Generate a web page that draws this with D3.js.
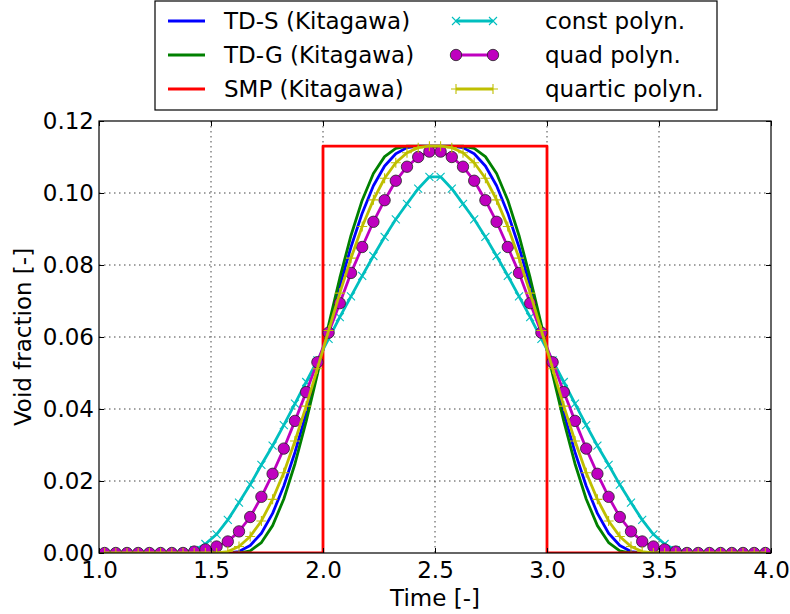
<!DOCTYPE html>
<html>
<head>
<meta charset="utf-8">
<script src="https://cdn.jsdelivr.net/npm/d3@7/dist/d3.min.js"></script>
<style>
  body { margin: 0; background: #fff; }
  svg text { font-family: "DejaVu Sans", sans-serif; fill: #000; }
</style>
</head>
<body>
<div id="chart"></div>
<script>
// sample times (cell centres)
const timeSteps = [1.025, 1.075, 1.125, 1.175, 1.225, 1.275, 1.325, 1.375, 1.425, 1.475,
    1.525, 1.575, 1.625, 1.675, 1.725, 1.775, 1.825, 1.875, 1.925, 1.975,
    2.025, 2.075, 2.125, 2.175, 2.225, 2.275, 2.325, 2.375, 2.425, 2.475,
    2.525, 2.575, 2.625, 2.675, 2.725, 2.775, 2.825, 2.875, 2.925, 2.975,
    3.025, 3.075, 3.125, 3.175, 3.225, 3.275, 3.325, 3.375, 3.425, 3.475,
    3.525, 3.575, 3.625, 3.675, 3.725, 3.775, 3.825, 3.875, 3.925, 3.975];

const smpTime = [1.0, 2.0, 2.0, 3.0, 3.0, 4.0];
const smpValues = [0, 0, 0.113, 0.113, 0, 0];

const tdsValues = [0, 0, 0, 0, 0, 0, 0, 0, 0, 0,
    0, 0, 0.0004, 0.0021, 0.0055, 0.0110, 0.0186, 0.0280, 0.0388, 0.0505,
    0.0625, 0.0742, 0.0850, 0.0944, 0.1020, 0.1075, 0.1109, 0.1126, 0.1130, 0.1130,
    0.1130, 0.1130, 0.1126, 0.1109, 0.1075, 0.1020, 0.0944, 0.0850, 0.0742, 0.0625,
    0.0505, 0.0388, 0.0280, 0.0186, 0.0110, 0.0055, 0.0021, 0.0004, 0, 0,
    0, 0, 0, 0, 0, 0, 0, 0, 0, 0];

const tdgValues = [0, 0, 0, 0, 0, 0, 0, 0, 0, 0,
    0, 0, 0, 0.0006, 0.0029, 0.0076, 0.0150, 0.0248, 0.0366, 0.0497,
    0.0633, 0.0764, 0.0882, 0.0980, 0.1054, 0.1101, 0.1124, 0.1130, 0.1130, 0.1130,
    0.1130, 0.1130, 0.1130, 0.1124, 0.1101, 0.1054, 0.0980, 0.0882, 0.0764, 0.0633,
    0.0497, 0.0366, 0.0248, 0.0150, 0.0076, 0.0029, 0.0006, 0, 0, 0,
    0, 0, 0, 0, 0, 0, 0, 0, 0, 0];

const constValues = [0, 0, 0, 0, 0, 0, 0, 0.0002, 0.0008, 0.0025,
    0.0052, 0.0092, 0.0140, 0.0190, 0.0245, 0.0298, 0.0355, 0.0415, 0.0475, 0.0535,
    0.0595, 0.0655, 0.0713, 0.0770, 0.0825, 0.0878, 0.0927, 0.0970, 0.1012, 0.1045,
    0.1045, 0.1012, 0.0970, 0.0927, 0.0878, 0.0825, 0.0770, 0.0713, 0.0655, 0.0595,
    0.0535, 0.0475, 0.0415, 0.0355, 0.0298, 0.0245, 0.0190, 0.0140, 0.0092, 0.0052,
    0.0025, 0.0008, 0.0002, 0, 0, 0, 0, 0, 0, 0];

const quadValues = [0, 0, 0, 0, 0, 0, 0, 0, 0.0004, 0.0010,
    0.0018, 0.0032, 0.0060, 0.0100, 0.0156, 0.0220, 0.0290, 0.0367, 0.0447, 0.0530,
    0.0612, 0.0694, 0.0778, 0.0850, 0.0920, 0.0980, 0.1034, 0.1073, 0.1100, 0.1115,
    0.1115, 0.1100, 0.1073, 0.1034, 0.0980, 0.0920, 0.0850, 0.0778, 0.0694, 0.0612,
    0.0530, 0.0447, 0.0367, 0.0290, 0.0220, 0.0156, 0.0100, 0.0060, 0.0032, 0.0018,
    0.0010, 0.0004, 0, 0, 0, 0, 0, 0, 0, 0];

const quarticValues = [0, 0, 0, 0, 0, 0, 0, 0, 0, 0,
    0, 0.0004, 0.0018, 0.0046, 0.0089, 0.0149, 0.0223, 0.0311, 0.0408, 0.0512,
    0.0618, 0.0722, 0.0819, 0.0907, 0.0981, 0.1041, 0.1084, 0.1112, 0.1126, 0.1130,
    0.1130, 0.1126, 0.1112, 0.1084, 0.1041, 0.0981, 0.0907, 0.0819, 0.0722, 0.0618,
    0.0512, 0.0408, 0.0311, 0.0223, 0.0149, 0.0089, 0.0046, 0.0018, 0.0004, 0,
    0, 0, 0, 0, 0, 0, 0, 0, 0, 0];

const xTicks = [1.0, 1.5, 2.0, 2.5, 3.0, 3.5, 4.0];
const yTicks = [0.00, 0.02, 0.04, 0.06, 0.08, 0.10, 0.12];

const seriesNames = ['TD-S (Kitagawa)', 'TD-G (Kitagawa)', 'SMP (Kitagawa)',
    'const polyn.', 'quad polyn.', 'quartic polyn.'];

(function () {
    'use strict';

    const W = 790, H = 614;
    const FONT = '23px';
    const margin = { top: 121, right: 19, bottom: 61, left: 99 };
    const width = W - margin.left - margin.right;
    const height = H - margin.top - margin.bottom;

    const svg = d3.select('#chart').append('svg')
        .attr('width', W).attr('height', H);

    const xScale = d3.scaleLinear().domain([1, 4]).range([0, width]);
    const yScale = d3.scaleLinear().domain([0, 0.12]).range([height, 0]);

    const plot = svg.append('g')
        .attr('transform', 'translate(' + margin.left + ',' + margin.top + ')');

    svg.append('defs').append('clipPath').attr('id', 'plot-clip')
        .append('rect').attr('width', width).attr('height', height);

    // dotted grid
    const grid = plot.append('g').attr('class', 'grid');
    grid.selectAll('.vgrid').data(xTicks.slice(1, -1)).enter().append('line')
        .attr('x1', d => xScale(d)).attr('x2', d => xScale(d))
        .attr('y1', 0).attr('y2', height);
    grid.selectAll('.hgrid').data(yTicks.slice(1, -1)).enter().append('line')
        .attr('x1', 0).attr('x2', width)
        .attr('y1', d => yScale(d)).attr('y2', d => yScale(d));
    grid.selectAll('line')
        .attr('stroke', '#444').attr('stroke-width', 1)
        .attr('stroke-dasharray', '1.5,3.5');

    const styles = [
        { name: seriesNames[0], x: timeSteps, y: tdsValues, color: '#0000ff', marker: null },
        { name: seriesNames[1], x: timeSteps, y: tdgValues, color: '#008000', marker: null },
        { name: seriesNames[2], x: smpTime, y: smpValues, color: '#ff0000', marker: null },
        { name: seriesNames[3], x: timeSteps, y: constValues, color: '#00bfbf', marker: 'x' },
        { name: seriesNames[4], x: timeSteps, y: quadValues, color: '#bf00bf', marker: 'o' },
        { name: seriesNames[5], x: timeSteps, y: quarticValues, color: '#bfbf00', marker: '+' }
    ];

    const line = d3.line().x(d => xScale(d[0])).y(d => yScale(d[1]));

    const drawMarker = function (g, kind, color) {
        if (kind === 'o') {
            g.append('circle').attr('r', 5.7)
                .attr('fill', color).attr('stroke', '#222').attr('stroke-width', 0.8);
        } else if (kind === 'x') {
            g.append('path').attr('d', 'M-4,-4L4,4M-4,4L4,-4')
                .attr('stroke', color).attr('stroke-width', 1.1).attr('fill', 'none');
        } else if (kind === '+') {
            g.append('path').attr('d', 'M-5,0L5,0M0,-5L0,5')
                .attr('stroke', color).attr('stroke-width', 1.1).attr('fill', 'none');
        }
    };

    const curves = plot.append('g').attr('clip-path', 'url(#plot-clip)');

    styles.forEach(function (s) {
        const pts = s.x.map((t, i) => [t, s.y[i]]);
        const g = curves.append('g');
        g.append('path').datum(pts)
            .attr('d', line)
            .attr('fill', 'none')
            .attr('stroke', s.color)
            .attr('stroke-width', 2.8)
            .attr('stroke-linejoin', 'round');
        if (s.marker) {
            g.selectAll('.mk').data(pts).enter().append('g')
                .attr('transform', d => 'translate(' + xScale(d[0]) + ',' + yScale(d[1]) + ')')
                .each(function () {
                    drawMarker(d3.select(this), s.marker, s.color);
                });
        }
    });

    // axes, ticks inside on all four sides
    const xAxis = d3.axisBottom(xScale).tickValues(xTicks).tickFormat(d3.format('.1f'))
        .tickSizeInner(-5).tickSizeOuter(0).tickPadding(9);
    const yAxis = d3.axisLeft(yScale).tickValues(yTicks).tickFormat(d3.format('.2f'))
        .tickSizeInner(-5).tickSizeOuter(0).tickPadding(5);
    const xTop = d3.axisTop(xScale).tickValues(xTicks).tickFormat('')
        .tickSizeInner(-5).tickSizeOuter(0);
    const yRight = d3.axisRight(yScale).tickValues(yTicks).tickFormat('')
        .tickSizeInner(-5).tickSizeOuter(0);

    plot.append('g').attr('transform', 'translate(0,' + height + ')').call(xAxis);
    plot.append('g').call(yAxis);
    plot.append('g').call(xTop);
    plot.append('g').attr('transform', 'translate(' + width + ',0)').call(yRight);

    plot.selectAll('.domain').remove();
    plot.selectAll('.tick line').attr('stroke', '#000').attr('stroke-width', 1);
    plot.selectAll('.tick text').style('font-size', FONT)
        .style('font-family', '"DejaVu Sans", sans-serif').attr('fill', '#000');

    plot.append('rect').attr('width', width).attr('height', height)
        .attr('fill', 'none').attr('stroke', '#000').attr('stroke-width', 1.2);

    svg.append('text')
        .attr('x', margin.left + width / 2).attr('y', 606)
        .attr('text-anchor', 'middle').style('font-size', FONT)
        .text('Time [-]');
    svg.append('text')
        .attr('transform', 'translate(31,' + (margin.top + height / 2) + ') rotate(-90)')
        .attr('text-anchor', 'middle').style('font-size', FONT)
        .text('Void fraction [-]');

    // legend
    const legend = svg.append('g').attr('class', 'legend');
    legend.append('rect')
        .attr('x', 155).attr('y', 1).attr('width', 562).attr('height', 109)
        .attr('fill', '#fff').attr('stroke', '#000').attr('stroke-width', 1.2);

    const items = legend.selectAll('.item').data(styles).enter().append('g')
        .attr('transform', function (d, i) {
            const col = Math.floor(i / 3), row = i % 3;
            return 'translate(' + (col === 0 ? 168 : 456) + ',' + (21 + row * 34) + ')';
        });

    items.append('line')
        .attr('x1', 0).attr('x2', 37).attr('y1', 0).attr('y2', 0)
        .attr('stroke', d => d.color).attr('stroke-width', 2.8);

    items.each(function (d) {
        if (!d.marker) return;
        const it = d3.select(this);
        [0, 37].forEach(function (px) {
            drawMarker(it.append('g').attr('transform', 'translate(' + px + ',0)'), d.marker, d.color);
        });
    });

    items.append('text')
        .attr('x', (d, i) => i < 3 ? 56 : 89)
        .attr('dy', '0.35em')
        .style('font-size', FONT)
        .text(d => d.name);
}());
</script>
</body>
</html>
